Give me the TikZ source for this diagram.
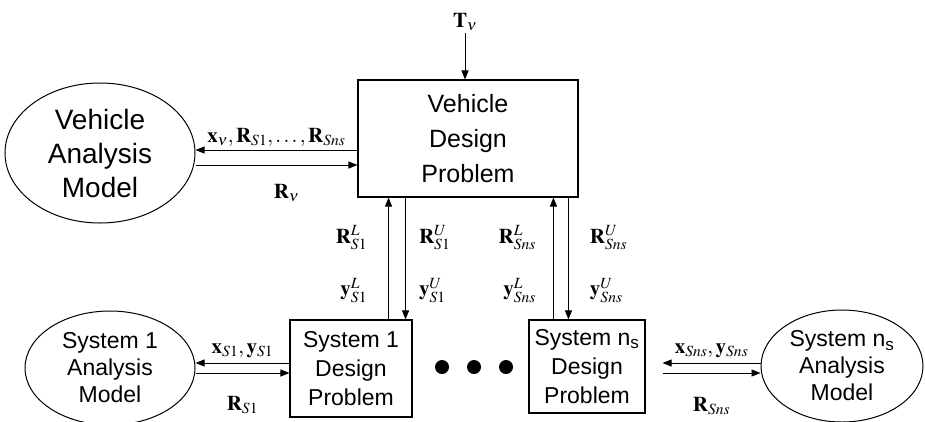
\documentclass[tikz,border=0pt]{standalone}
\usepackage{mathptmx}
\usepackage[no-math]{fontspec}
\setmainfont{Liberation Sans}
\usetikzlibrary{arrows.meta,shapes.geometric}

\begin{document}
\begin{tikzpicture}[x=1pt, y=-1pt,
  dbox/.style={draw, line width=1.1pt, align=center, inner sep=0pt},
  amod/.style={draw, ellipse, line width=1pt, align=center, inner sep=0pt},
  big/.style={font=\fontsize{25}{35}\selectfont},
  small/.style={font=\fontsize{23}{29}\selectfont},
  arr/.style={-{Triangle[length=9pt,width=7pt]}, line width=0.9pt},
  lbl/.style={inner sep=0pt, font=\fontsize{21}{24}\selectfont},
  dot/.style={circle, fill=black, minimum size=14pt, inner sep=0pt}]
  \useasboundingbox (0,0) rectangle (925,421);

  \node[dbox, big, minimum width=220, minimum height=117] (vdp) at (468,138.5) {Vehicle\\Design\\Problem};
  \node[amod, font=\fontsize{28}{34}\selectfont, minimum width=190, minimum height=140] (vam) at (100,153) {Vehicle\\Analysis\\Model};
  \node[dbox, small, minimum width=122, minimum height=97] (s1dp) at (351,368.5) {System 1\\Design\\Problem};
  \node[dbox, small, minimum width=116, minimum height=93] (sndp) at (587,366.5) {System n\textsubscript{s}\\Design\\Problem};
  \node[amod, font=\fontsize{23}{27}\selectfont, minimum width=170, minimum height=114] (s1am) at (110,368) {System 1\\Analysis\\Model};
  \node[amod, font=\fontsize{23}{27}\selectfont, minimum width=162, minimum height=112] (snam) at (842,366) {System n\textsubscript{s}\\Analysis\\Model};
  \node[lbl, inner sep=2pt] (tv) at (465,22) {$\mathbf{T}_\nu$};
  \foreach \x/\n in {442/1,474/2,506/3}
    \node[dot] (dot\n) at (\x,367) {};

  % vehicle level
  \draw[arr] (tv) -- (tv |- vdp.north);
  \coordinate (h1) at ([yshift=3pt]vam.east);
  \coordinate (h2) at ([yshift=-12pt]vam.east);
  \draw[arr] (h1 -| vdp.west) -- node[lbl, above=3pt]{$\mathbf{x}_\nu,\mathbf{R}_{S1},\ldots,\mathbf{R}_{Sns}$} (h1);
  \draw[arr] (h2) -- node[lbl, below=19pt, xshift=10pt]{$\mathbf{R}_\nu$} (h2 -| vdp.west);

  % links to system 1
  \coordinate (a1) at ([xshift=-24pt]s1dp.north east);
  \coordinate (a2) at ([xshift=-7pt]s1dp.north east);
  \draw[arr] (a1) -- node[lbl, pos=.24, left=21pt]{$\mathbf{y}^L_{S1}$}
                     node[lbl, pos=.67, left=21pt]{$\mathbf{R}^L_{S1}$} (a1 |- vdp.south);
  \draw[arr] (a2 |- vdp.south) -- node[lbl, pos=.33, right=13pt]{$\mathbf{R}^U_{S1}$}
                                  node[lbl, pos=.76, right=13pt]{$\mathbf{y}^U_{S1}$} (a2);

  % links to system n_s
  \coordinate (b1) at ([xshift=25pt]sndp.north west);
  \coordinate (b2) at ([xshift=40pt]sndp.north west);
  \draw[arr] (b1) -- node[lbl, pos=.24, left=17pt]{$\mathbf{y}^L_{Sns}$}
                     node[lbl, pos=.67, left=17pt]{$\mathbf{R}^L_{Sns}$} (b1 |- vdp.south);
  \draw[arr] (b2 |- vdp.south) -- node[lbl, pos=.33, right=21pt]{$\mathbf{R}^U_{Sns}$}
                                  node[lbl, pos=.76, right=21pt]{$\mathbf{y}^U_{Sns}$} (b2);

  % system 1 analysis
  \coordinate (k1) at ([yshift=5.5pt]s1dp.west);
  \coordinate (k2) at ([yshift=-4.5pt]s1dp.west);
  \draw[arr] (k1) -- node[lbl, above=5pt]{$\mathbf{x}_{S1},\mathbf{y}_{S1}$} (k1 -| s1am.east);
  \draw[arr] (k2 -| s1am.east) -- node[lbl, below=23pt]{$\mathbf{R}_{S1}$} (k2);

  % system n_s analysis
  \coordinate (m1) at ([xshift=17pt,yshift=3.5pt]sndp.east);
  \coordinate (m2) at ([xshift=17pt,yshift=-6.5pt]sndp.east);
  \draw[arr] (m1 -| snam.west) -- node[lbl, above=5pt]{$\mathbf{x}_{Sns},\mathbf{y}_{Sns}$} (m1);
  \draw[arr] (m2) -- node[lbl, below=24pt]{$\mathbf{R}_{Sns}$} (m2 -| snam.west);
\end{tikzpicture}
\end{document}
